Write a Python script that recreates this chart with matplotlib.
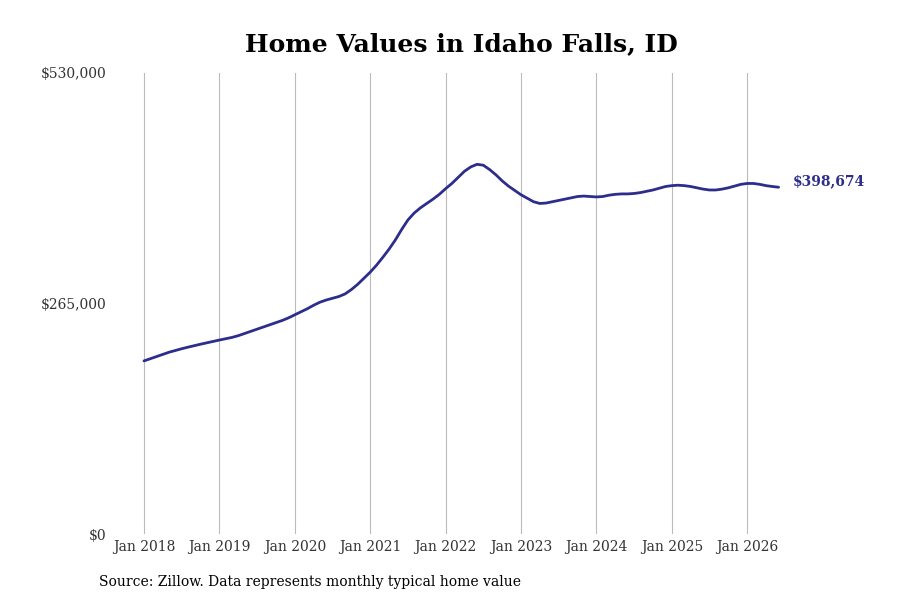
import matplotlib
matplotlib.use('Agg')
from matplotlib import pyplot as plt
from matplotlib.ticker import FuncFormatter

# monthly typical home value, thousands of dollars, Jan 2018 - Jun 2026
values_2018 = [199.0, 201.5, 204.0, 206.5, 209.0, 211.0, 213.0, 214.8, 216.5, 218.2, 219.8, 221.4]
values_2019 = [223.0, 224.5, 226.0, 228.0, 230.5, 233.0, 235.5, 238.0, 240.5, 243.0, 245.5, 248.5]
values_2020 = [252.0, 255.5, 259.0, 263.0, 266.5, 269.0, 271.0, 273.0, 276.0, 281.0, 287.0, 294.0]
values_2021 = [301.0, 309.0, 318.0, 327.5, 338.0, 350.0, 361.0, 369.0, 375.0, 380.0, 385.0, 390.5]
values_2022 = [397.0, 403.0, 410.0, 417.0, 422.0, 425.0, 424.0, 419.0, 413.0, 406.0, 400.0, 395.0]
values_2023 = [390.0, 386.0, 382.0, 380.0, 380.5, 382.0, 383.5, 385.0, 386.5, 388.0, 388.5, 388.0]
values_2024 = [387.5, 388.0, 389.5, 390.5, 391.0, 391.0, 391.5, 392.5, 394.0, 395.5, 397.5, 399.5]
values_2025 = [400.5, 401.0, 400.5, 399.5, 398.0, 396.5, 395.5, 395.5, 396.5, 398.0, 400.0, 402.0]
values_2026 = [403.0, 403.0, 402.0, 400.5, 399.5, 398.674]

values = (values_2018 + values_2019 + values_2020 + values_2021 + values_2022
          + values_2023 + values_2024 + values_2025 + values_2026)
values = [v * 1000 for v in values]
months = [2018 + i / 12 for i in range(len(values))]

tick_years = list(range(2018, 2027))
tick_labels = ['Jan %d' % y for y in tick_years]
y_ticks = [0, 265000, 530000]

line_color = '#2d2d8c'

fig = plt.figure(figsize=(9, 6), dpi=100)
ax = fig.add_axes([115 / 900, 66 / 600, 675 / 900, 461 / 600])

ax.plot(months, values, color=line_color, linewidth=2.0, solid_capstyle='round')

ax.set_xlim(2018 - 29 / 75.4, 2018 + 646 / 75.4)
ax.set_ylim(0, 530000)

ax.set_xticks(tick_years)
ax.set_xticklabels(tick_labels, family='DejaVu Serif', fontsize=10, color='#333333')
ax.set_yticks(y_ticks)
ax.yaxis.set_major_formatter(FuncFormatter(lambda v, p: '${:,.0f}'.format(v)))
for lbl in ax.get_yticklabels():
    lbl.set_family('DejaVu Serif')
    lbl.set_fontsize(10)
    lbl.set_color('#333333')

ax.tick_params(axis='both', length=0)
ax.tick_params(axis='x', pad=4)
ax.tick_params(axis='y', pad=6)

ax.grid(axis='x', color='#bbbbbb', linewidth=0.8)
ax.grid(axis='y', visible=False)
for side in ax.spines:
    ax.spines[side].set_visible(False)

ax.annotate('${:,.0f}'.format(values[-1]), xy=(months[-1], values[-1]),
            xytext=(10, 4), textcoords='offset points', va='center', ha='left',
            family='DejaVu Serif', fontweight='bold', fontsize=10, color=line_color,
            annotation_clip=False)

fig.text(461 / 900, 1 - 44 / 600, 'Home Values in Idaho Falls, ID', ha='center', va='center',
         family='DejaVu Serif', fontweight='bold', fontsize=18)
fig.text(99 / 900, 1 - 582 / 600, 'Source: Zillow. Data represents monthly typical home value',
         ha='left', va='center', family='DejaVu Serif', fontsize=10)

fig.savefig('out.png', dpi=100)
